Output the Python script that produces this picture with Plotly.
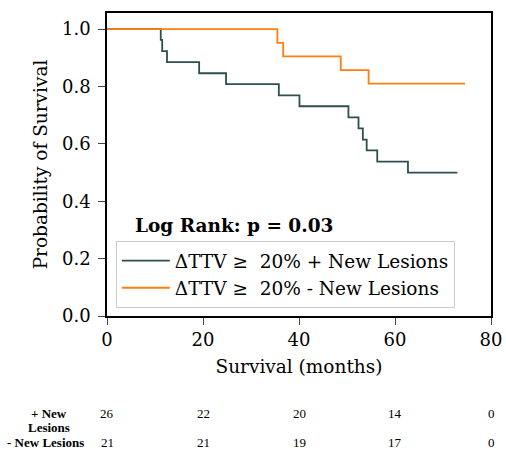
import plotly.graph_objects as go

# Kaplan-Meier step data
plus_t = [0, 11.2, 11.5, 12.5, 19.2, 24.8, 35.8, 40.1, 50.3, 52.4, 53.3, 54.1, 56.3, 62.7, 73.0]
plus_s = [1.0, 0.962, 0.923, 0.885, 0.846, 0.808, 0.769, 0.731, 0.692, 0.654, 0.615, 0.577, 0.538, 0.500, 0.500]
minus_t = [0, 35.5, 36.7, 48.7, 54.5, 74.6]
minus_s = [1.0, 0.952, 0.905, 0.857, 0.810, 0.810]

risk_times = [0, 20, 40, 60, 80]
risk_plus = [26, 22, 20, 14, 0]
risk_minus = [21, 21, 19, 17, 0]

label_plus = "ΔTTV ≥  20% + New Lesions"
label_minus = "ΔTTV ≥  20% - New Lesions"

fig = go.Figure()
fig.add_trace(go.Scatter(x=plus_t, y=plus_s, mode="lines", line_shape="hv",
                         line=dict(color="#2F4F4F", width=1.8), name=label_plus))
fig.add_trace(go.Scatter(x=minus_t, y=minus_s, mode="lines", line_shape="hv",
                         line=dict(color="#FF7F0E", width=1.8), name=label_minus))

serif = "DejaVu Serif"
fig.update_layout(
    width=506, height=451,
    margin=dict(l=107, r=15, t=13, b=135),
    plot_bgcolor="white", paper_bgcolor="white",
    font=dict(family=serif, size=18, color="black"),
    showlegend=True,
    legend=dict(x=0.023, y=0.247, xanchor="left", yanchor="top",
                bgcolor="white", bordercolor="#cccccc", borderwidth=1,
                font=dict(family=serif, size=18.5), tracegroupgap=0, itemwidth=48),
)
fig.update_xaxes(range=[0, 80], tickvals=[0, 20, 40, 60, 80], ticks="outside",
                 ticklen=7, tickwidth=1.3, showline=True, linecolor="black", linewidth=1.5,
                 mirror=True, showgrid=False, zeroline=False, automargin=False,
                 title=dict(text="Survival (months)", font=dict(size=18.5), standoff=11),
                 tickfont=dict(size=18))
fig.update_yaxes(range=[0, 1.056], tickvals=[0, 0.2, 0.4, 0.6, 0.8, 1.0],
                 ticktext=["0.0", "0.2", "0.4", "0.6", "0.8", "1.0"], ticks="outside",
                 ticklen=7, tickwidth=1.3, showline=True, linecolor="black", linewidth=1.5,
                 mirror=True, showgrid=False, zeroline=False, ticklabelstandoff=4,
                 automargin=False,
                 title=dict(text="Probability of Survival", font=dict(size=18.5), standoff=10),
                 tickfont=dict(size=18))

fig.add_annotation(x=5.4, y=0.317, xref="x", yref="y", text="<b>Log Rank: p = 0.03</b>",
                   showarrow=False, xanchor="left", yanchor="middle",
                   font=dict(family=serif, size=18.5))

tfont = dict(family="Liberation Serif", size=13, color="black")
fig.add_annotation(x=-0.151, y=-0.322, xref="paper", yref="paper", text="<b>+ New</b>",
                   showarrow=False, xanchor="center", yanchor="middle", font=tfont)
fig.add_annotation(x=-0.152, y=-0.368, xref="paper", yref="paper", text="<b>Lesions</b>",
                   showarrow=False, xanchor="center", yanchor="middle", font=tfont)
fig.add_annotation(x=-0.161, y=-0.418, xref="paper", yref="paper", text="<b>- New Lesions</b>",
                   showarrow=False, xanchor="center", yanchor="middle", font=tfont)
for t, a, b in zip(risk_times, risk_plus, risk_minus):
    fig.add_annotation(x=t, y=-0.322, xref="x", yref="paper", text=str(a),
                       showarrow=False, xanchor="center", yanchor="middle", font=tfont)
    fig.add_annotation(x=t, y=-0.418, xref="x", yref="paper", text=str(b),
                       showarrow=False, xanchor="center", yanchor="middle", font=tfont)

fig.write_html("out.html", config={"displayModeBar": False},
               post_script="document.body.style.margin='0';")
